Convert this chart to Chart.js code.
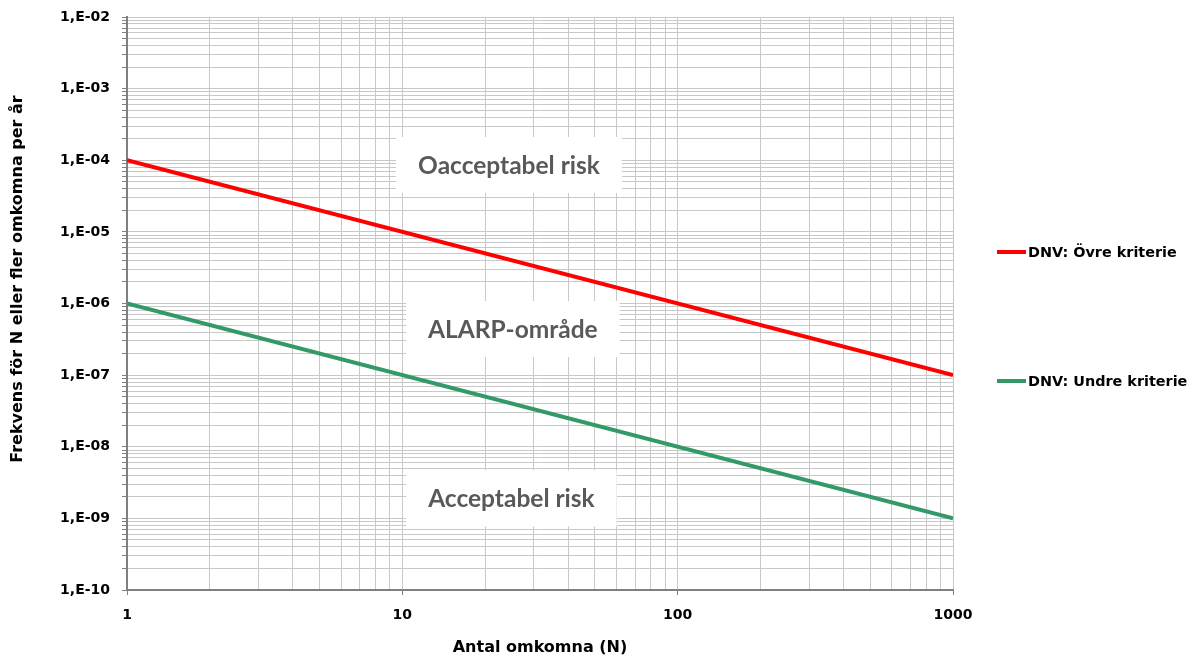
<!DOCTYPE html>
<html><head><meta charset="utf-8">
<script src="https://cdn.jsdelivr.net/npm/chart.js@4.4.1/dist/chart.umd.min.js"></script>
<style>html,body{margin:0;padding:0;background:#fff;overflow:hidden}#wrap{width:1198px;height:661px;position:relative}canvas{display:block}</style>
</head><body><div id="wrap"><canvas id="c" width="1198" height="661" style="width:1198px;height:661px"></canvas></div>
<script>
// ---- data ----
const nValues = [1, 1000];
const upperCriterion = [1e-4, 1e-7];
const lowerCriterion = [1e-6, 1e-9];
const seriesLabels = ['DNV: Övre kriterie', 'DNV: Undre kriterie'];
const seriesColors = ['#ff0000', '#339966'];
const xTickLabels = ['1', '10', '100', '1000'];
const yTickLabels = ['1,E-10', '1,E-09', '1,E-08', '1,E-07', '1,E-06', '1,E-05', '1,E-04', '1,E-03', '1,E-02'];
const regionLabels = ['Oacceptabel risk', 'ALARP-område', 'Acceptabel risk'];
const regionAnchorN = [24.4, 25.2, 24.9];
const regionAnchorF = [8.6e-5, 4.4e-7, 1.9e-9];
const xTitle = 'Antal omkomna (N)';
const yTitle = 'Frekvens för N eller fler omkomna per år';
const xMin = 1, xMax = 1000, yMin = 1e-10, yMax = 1e-2;

// ---- helpers ----
function decadeIndex(v, min) {
  const e = Math.log10(v / min);
  const r = Math.round(e);
  return Math.abs(e - r) < 1e-6 ? r : -1;
}
function logTicks(min, max) {
  const out = [];
  const e0 = Math.round(Math.log10(min)), e1 = Math.round(Math.log10(max));
  for (let e = e0; e <= e1; e++) {
    for (let k = 1; k <= 9; k++) {
      if (e === e1 && k > 1) break;
      const v = Number((k * Math.pow(10, e)).toPrecision(6));
      out.push({ value: v, major: k === 1 });
    }
  }
  return out;
}

const boldFamily = "'DejaVu Sans', 'Liberation Sans', Arial, sans-serif";
const tickFont = { family: boldFamily, size: 14, weight: 'bold' };
const gridColor = '#c8c8c8';
const axisColor = '#808080';

const overlayPlugin = {
  id: 'overlay',
  beforeDatasetsDraw(chart) {
    const ctx = chart.ctx, xs = chart.scales.x, ys = chart.scales.y;
    ctx.save();
    ctx.font = "bold 24.5px Lato, 'Open Sans', sans-serif";
    ctx.textAlign = 'center';
    ctx.textBaseline = 'middle';
    regionLabels.forEach((t, i) => {
      const cx = xs.getPixelForValue(regionAnchorN[i]);
      const cy = ys.getPixelForValue(regionAnchorF[i]);
      const w = ctx.measureText(t).width + 44, h = 56;
      ctx.fillStyle = '#ffffff';
      ctx.fillRect(cx - w / 2, cy - h / 2, w, h);
      ctx.fillStyle = '#595959';
      ctx.fillText(t, cx, cy + 1);
    });
    ctx.restore();
  },
  afterDraw(chart) {
    const ctx = chart.ctx, a = chart.chartArea;
    ctx.save();
    ctx.fillStyle = '#000';
    ctx.font = "bold 16px " + boldFamily;
    ctx.textAlign = 'center';
    ctx.textBaseline = 'middle';
    ctx.fillText(xTitle, (a.left + a.right) / 2, 648);
    ctx.save();
    ctx.translate(18, 279);
    ctx.rotate(-Math.PI / 2);
    ctx.fillText(yTitle, 0, 0);
    ctx.restore();
    // legend
    const legendY = [252, 381];
    ctx.font = "bold 14.4px " + boldFamily;
    ctx.textAlign = 'left';
    chart.data.datasets.forEach((ds, i) => {
      ctx.strokeStyle = ds.borderColor;
      ctx.lineWidth = 4;
      ctx.beginPath();
      ctx.moveTo(997, legendY[i]);
      ctx.lineTo(1026, legendY[i]);
      ctx.stroke();
      ctx.fillStyle = '#000';
      ctx.fillText(ds.label, 1028, legendY[i] + 1);
    });
    ctx.restore();
  }
};

new Chart(document.getElementById('c'), {
  type: 'line',
  data: {
    datasets: [
      { label: seriesLabels[0], data: nValues.map((n, i) => ({ x: n, y: upperCriterion[i] })),
        borderColor: seriesColors[0], backgroundColor: seriesColors[0], borderWidth: 4, pointRadius: 0, tension: 0 },
      { label: seriesLabels[1], data: nValues.map((n, i) => ({ x: n, y: lowerCriterion[i] })),
        borderColor: seriesColors[1], backgroundColor: seriesColors[1], borderWidth: 4, pointRadius: 0, tension: 0 }
    ]
  },
  options: {
    responsive: false,
    animation: false,
    devicePixelRatio: 1,
    layout: { padding: { left: 0, right: 245, top: 17, bottom: 0 } },
    plugins: { legend: { display: false }, tooltip: { enabled: false } },
    scales: {
      x: {
        type: 'logarithmic', min: xMin, max: xMax, position: 'bottom',
        afterBuildTicks: s => { s.ticks = logTicks(xMin, xMax); },
        afterFit: s => { s.height = 71; s.paddingLeft = 0; s.paddingRight = 0; },
        grid: { color: gridColor, lineWidth: 1, drawTicks: true, tickLength: 5,
          tickColor: c => (c.tick && decadeIndex(c.tick.value, xMin) >= 0) ? axisColor : 'rgba(0,0,0,0)' },
        border: { color: axisColor, width: 2 },
        ticks: { autoSkip: false, maxRotation: 0, minRotation: 0, padding: 12, color: '#000', font: tickFont,
          callback: v => { const d = decadeIndex(v, xMin); return d >= 0 ? xTickLabels[d] : ''; } }
      },
      y: {
        type: 'logarithmic', min: yMin, max: yMax,
        afterBuildTicks: s => { s.ticks = logTicks(yMin, yMax); },
        afterFit: s => { s.width = 127; s.paddingTop = 0; s.paddingBottom = 0; },
        grid: { color: gridColor, lineWidth: 1, drawTicks: true, tickLength: 5, tickColor: axisColor },
        border: { color: axisColor, width: 2 },
        ticks: { autoSkip: false, padding: 12, color: '#000', font: tickFont,
          callback: v => { const d = decadeIndex(v, yMin); return d >= 0 ? yTickLabels[d] : ''; } }
      }
    }
  },
  plugins: [overlayPlugin]
});
</script>
</body></html>
